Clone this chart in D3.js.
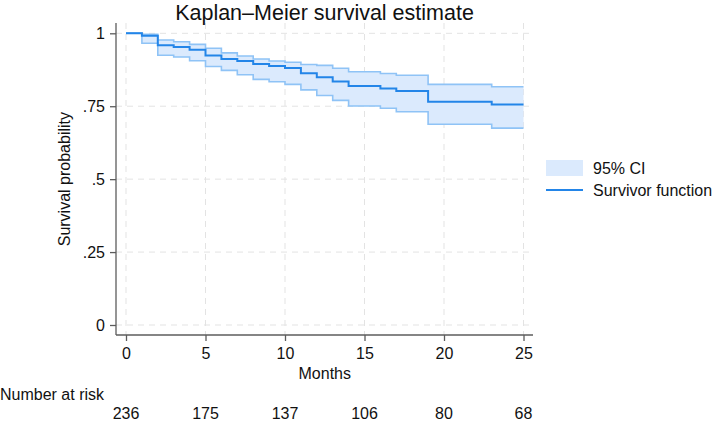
<!DOCTYPE html>
<html>
<head>
<meta charset="utf-8">
<script src="https://cdn.jsdelivr.net/npm/d3@7/dist/d3.min.js"></script>
<style>
  html, body { margin: 0; padding: 0; background: #fff; }
  svg { display: block; font-family: "Liberation Sans", Arial, Helvetica, sans-serif; }
</style>
</head>
<body>
<svg id="chart" width="714" height="421"></svg>
<script>
// ---- Data ----
const times    = [0, 1, 2, 3, 4, 5, 6, 7, 8, 9, 10, 11, 12, 13, 14, 16, 17, 19, 23];
const survival = [1, 0.992, 0.959, 0.953, 0.944, 0.924, 0.912, 0.905, 0.895, 0.888, 0.881, 0.863, 0.849, 0.835, 0.819, 0.811, 0.802, 0.765, 0.756];
const ciUpper  = [1, 0.997, 0.977, 0.971, 0.962, 0.949, 0.933, 0.922, 0.912, 0.905, 0.901, 0.893, 0.890, 0.880, 0.868, 0.862, 0.856, 0.825, 0.817];
const ciLower  = [1, 0.966, 0.925, 0.919, 0.906, 0.886, 0.873, 0.858, 0.842, 0.834, 0.825, 0.806, 0.787, 0.770, 0.751, 0.743, 0.731, 0.688, 0.675];
const lastTime = 25;
const xTicks = [0, 5, 10, 15, 20, 25];
const yTicks = [0, 0.25, 0.5, 0.75, 1];
const yTickLabels = ["0", ".25", ".5", ".75", "1"];
const atRisk = [236, 175, 137, 106, 80, 68];
const titleText = "Kaplan\u2013Meier survival estimate";
const xLabel = "Months";
const yLabel = "Survival probability";
const legendLabels = ["95% CI", "Survivor function"];

// ---- Layout ----
const svg = d3.select("#chart");
const region = { left: 116, right: 533, top: 23, bottom: 335 };
const x = d3.scaleLinear().domain([0, 25]).range([126, 523.5]);
const y = d3.scaleLinear().domain([0, 1]).range([325, 33.3]);

const colLine = "#2385e8";
const colBand = "#dbeafd";
const colBandEdge = "#8fc3f6";
const colAxis = "#5c5c5c";
const colGrid = "#e3e3e3";

const rows = times.map((t, i) => ({ t, s: survival[i], u: ciUpper[i], l: ciLower[i] }));
rows.push({ t: lastTime, s: survival[survival.length - 1], u: ciUpper[ciUpper.length - 1], l: ciLower[ciLower.length - 1] });

// grid
const grid = svg.append("g");
grid.selectAll("line.gx").data(xTicks).join("line")
  .attr("x1", d => x(d)).attr("x2", d => x(d))
  .attr("y1", region.top).attr("y2", region.bottom)
  .attr("stroke", colGrid).attr("stroke-width", 1).attr("stroke-dasharray", "6,5");
grid.selectAll("line.gy").data(yTicks).join("line")
  .attr("x1", region.left).attr("x2", region.right)
  .attr("y1", d => y(d)).attr("y2", d => y(d))
  .attr("stroke", colGrid).attr("stroke-width", 1).attr("stroke-dasharray", "6,5");

// CI band
const area = d3.area().curve(d3.curveStepAfter)
  .x(d => x(d.t)).y0(d => y(d.l)).y1(d => y(d.u));
svg.append("path").datum(rows).attr("d", area).attr("fill", colBand);

const stepLine = key => d3.line().curve(d3.curveStepAfter).x(d => x(d.t)).y(d => y(d[key]));
["u", "l"].forEach(k => {
  svg.append("path").datum(rows).attr("d", stepLine(k))
    .attr("fill", "none").attr("stroke", colBandEdge).attr("stroke-width", 1.6);
});
svg.append("path").datum(rows).attr("d", stepLine("s"))
  .attr("fill", "none").attr("stroke", colLine).attr("stroke-width", 2);

// axes
const xAxis = d3.axisBottom(x).tickValues(xTicks).tickSize(6).tickPadding(7).tickFormat(d3.format("d"));
const gx = svg.append("g").attr("transform", `translate(0,${region.bottom})`).call(xAxis);
gx.select(".domain").attr("d", `M${region.left},0H${region.right}`).attr("stroke", colAxis).attr("stroke-width", 1.3);
gx.selectAll(".tick line").attr("stroke", colAxis).attr("stroke-width", 1.3);
gx.selectAll(".tick text").attr("font-size", 16).attr("fill", "#111").attr("font-family", "Liberation Sans, Arial, sans-serif");

const yAxis = d3.axisLeft(y).tickValues(yTicks).tickSize(6).tickPadding(5).tickFormat((d, i) => yTickLabels[i]);
const gy = svg.append("g").attr("transform", `translate(${region.left},0)`).call(yAxis);
gy.select(".domain").attr("d", `M0,${region.top}V${region.bottom}`).attr("stroke", colAxis).attr("stroke-width", 1.3);
gy.selectAll(".tick line").attr("stroke", colAxis).attr("stroke-width", 1.3);
gy.selectAll(".tick text").attr("font-size", 16).attr("fill", "#111").attr("font-family", "Liberation Sans, Arial, sans-serif");

// title & labels
svg.append("text").attr("x", (region.left + region.right) / 2).attr("y", 19.5)
  .attr("text-anchor", "middle").attr("font-size", 21.5).attr("fill", "#111").text(titleText);
svg.append("text").attr("x", x(12.5)).attr("y", 379)
  .attr("text-anchor", "middle").attr("font-size", 16).attr("fill", "#111").text(xLabel);
svg.append("text").attr("transform", `translate(70,${(y(0) + y(1)) / 2}) rotate(-90)`)
  .attr("text-anchor", "middle").attr("font-size", 16).attr("fill", "#111").text(yLabel);

// number at risk
svg.append("text").attr("x", 0).attr("y", 400).attr("font-size", 16).attr("fill", "#111").text("Number at risk");
svg.selectAll("text.risk").data(atRisk).join("text")
  .attr("x", (d, i) => x(xTicks[i])).attr("y", 419)
  .attr("text-anchor", "middle").attr("font-size", 16).attr("fill", "#111").text(d => d);

// legend
const lg = svg.append("g");
lg.append("rect").attr("x", 546).attr("y", 160).attr("width", 37).attr("height", 16).attr("fill", colBand);
lg.append("line").attr("x1", 546).attr("x2", 583).attr("y1", 190).attr("y2", 190)
  .attr("stroke", colLine).attr("stroke-width", 2);
lg.append("text").attr("x", 593).attr("y", 174).attr("font-size", 16).attr("fill", "#111").text(legendLabels[0]);
lg.append("text").attr("x", 593).attr("y", 196).attr("font-size", 16).attr("fill", "#111").text(legendLabels[1]);
</script>
</body>
</html>
